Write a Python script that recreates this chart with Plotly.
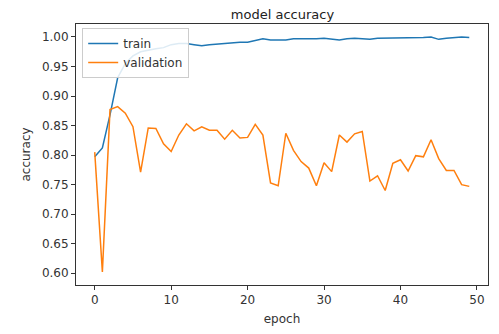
import plotly.graph_objects as go

# Valeurs
epochs = list(range(50))
train_acc = [
    0.797, 0.812, 0.868, 0.931, 0.955, 0.968, 0.975, 0.978, 0.980, 0.982,
    0.987, 0.989, 0.989, 0.987, 0.985, 0.987, 0.988, 0.990, 0.991, 0.991,
    0.991, 0.994, 0.997, 0.995, 0.995, 0.995, 0.997, 0.997, 0.996, 0.997,
    0.998, 0.996, 0.995, 0.997, 0.998, 0.997, 0.996, 0.998, 0.998, 0.998,
    0.998, 0.999, 0.999, 0.999, 1.000, 0.996, 0.998, 0.999, 1.000, 0.999,
]
val_acc = [
    0.805, 0.602, 0.877, 0.882, 0.871, 0.848, 0.771, 0.846, 0.845, 0.819,
    0.806, 0.834, 0.853, 0.841, 0.848, 0.842, 0.842, 0.827, 0.842, 0.829,
    0.830, 0.852, 0.834, 0.753, 0.748, 0.837, 0.808, 0.789, 0.778, 0.748,
    0.787, 0.772, 0.834, 0.822, 0.836, 0.840, 0.756, 0.765, 0.740, 0.786,
    0.792, 0.773, 0.799, 0.797, 0.826, 0.794, 0.774, 0.774, 0.750, 0.747,
]
x_ticks = [0, 10, 20, 30, 40, 50]
y_ticks = [0.60, 0.65, 0.70, 0.75, 0.80, 0.85, 0.90, 0.95, 1.00]

C_TRAIN = "#1f77b4"
C_VAL = "#ff7f0e"
FONT = "DejaVu Sans"

# la page html ajoute ~8px de marge au body : on compense
W, H = 491, 326

fig = go.Figure()
fig.add_trace(go.Scatter(x=epochs, y=train_acc, mode="lines", name="train",
                         line=dict(color=C_TRAIN, width=1.5)))
fig.add_trace(go.Scatter(x=epochs, y=val_acc, mode="lines", name="validation",
                         line=dict(color=C_VAL, width=1.5)))

axis_style = dict(
    showline=True, linecolor="#333333", linewidth=1, mirror=True,
    ticks="outside", ticklen=4, tickcolor="#333333",
    showgrid=False, zeroline=False,
    tickfont=dict(family=FONT, size=12, color="#333333"),
)

fig.update_layout(
    width=W,
    height=H,
    margin=dict(l=68, r=10, t=16, b=41),
    paper_bgcolor="white",
    plot_bgcolor="white",
    font=dict(family=FONT, size=12, color="#333333"),
    title=dict(text="model accuracy", x=(68 + 481) / 2 / W, xanchor="center",
               y=1 - 2 / H, yanchor="top", pad=dict(t=0, b=0),
               font=dict(size=13, color="#222222")),
    xaxis=dict(range=[-2.45, 51.45], tickvals=x_ticks,
               title=dict(text="epoch", font=dict(size=12), standoff=8), **axis_style),
    yaxis=dict(range=[0.58, 1.022], tickvals=y_ticks, tickformat=".2f",
               title=dict(text="accuracy", font=dict(size=12), standoff=8), **axis_style),
    legend=dict(x=0.015, y=0.985, xanchor="left", yanchor="top",
                bgcolor="rgba(255,255,255,0.85)", bordercolor="#cccccc", borderwidth=1,
                font=dict(size=12), tracegroupgap=0),
    showlegend=True,
)

fig.write_html("out.html")
